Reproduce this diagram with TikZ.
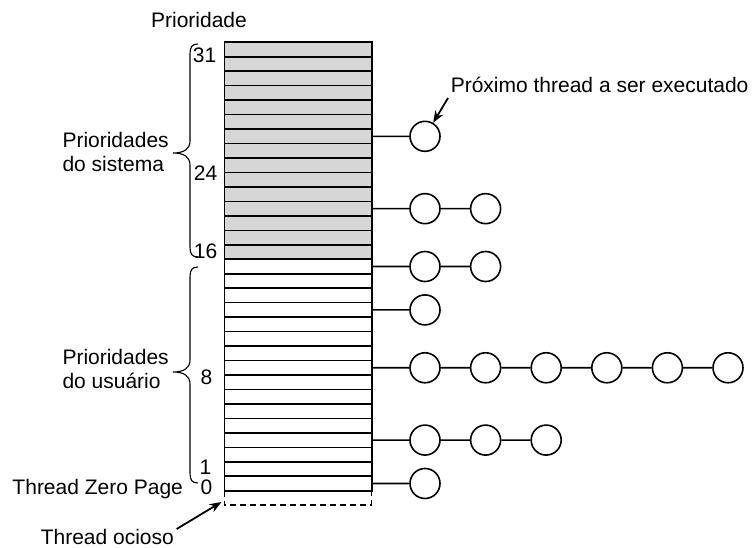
\documentclass[tikz,border=0pt]{standalone}
\usepackage{fontspec}
\setmainfont{Liberation Sans}
\usetikzlibrary{arrows.meta}
\definecolor{sysgray}{RGB}{214,214,214}
\newcommand\bracepath[3]{%
  \draw[bracestyle] (198,#1) .. controls (192,#1) and (190,#1+3) .. (190,#1+10)
    -- (190,#2-12) .. controls (190,#2-4) and (184,#2) .. (173,#2)
    .. controls (184,#2) and (190,#2+4) .. (190,#2+12)
    -- (190,#3-10) .. controls (190,#3-3) and (192,#3) .. (198,#3);}
\begin{document}
\begin{tikzpicture}[x=1pt,y=-1pt, line width=1.6pt,
  lbl/.style={inner sep=0pt, font=\fontsize{21}{24}\selectfont},
  slot/.style={draw, minimum width=147.2pt, minimum height=14.465pt, inner sep=0pt, outer sep=0pt},
  thr/.style={draw, circle, minimum size=30pt, inner sep=0pt, fill=white},
  bracestyle/.style={line width=1.1pt},
  ptr/.style={-{Stealth[length=12pt,width=9pt]}, line width=1.8pt},
  dashbox/.style={line width=1.2pt, dash pattern=on 6pt off 4pt}]
\useasboundingbox (0,0) rectangle (752,548);

% priority table
\foreach \i in {0,...,30} {
  \ifnum\i<15 \def\fc{sysgray}\else\def\fc{white}\fi
  \pgfmathsetmacro\yy{42.3+14.465*(\i+0.5)}
  \node[slot, fill=\fc] (row\i) at (298.1,\yy) {};
}
% idle slot (dashed)
\coordinate (d1) at (224.5,505);
\coordinate (d2) at (371.7,505);
\draw[dashbox] (row30.south west) -- (d1) -- (d2) -- (row30.south east);

% labels
\node[lbl, anchor=base] (title) at (199,27.7) {Prioridade};
\node[lbl, anchor=base east] (l31) at (217,63) {31};
\node[lbl, anchor=base east] (l24) at (218,180.7) {24};
\node[lbl, anchor=base east] (l16) at (218,258) {16};
\node[lbl, anchor=base east] (l8) at (213,384) {8};
\node[lbl, anchor=base east] (l1) at (212,474) {1};
\node[lbl, anchor=base east] (l0) at (213,494) {0};
\node[lbl, align=left, anchor=north west] (sys) at (61.7,131.4) {Prioridades\\do sistema};
\node[lbl, align=left, anchor=north west] (usr) at (61.7,348) {Prioridades\\do usuário};
\node[lbl, anchor=base west] (tzp) at (11.7,494) {Thread Zero Page};
\node[lbl, anchor=base west] (idle) at (40,544) {Thread ocioso};
\node[lbl, anchor=base west] (next) at (450,93) {Próximo thread a ser executado};

% braces
\bracepath{44}{153}{257}
\bracepath{267}{372}{483}

% thread queues
\node[thr] (a1) at (425,136.32) {};
\draw (row6.east) -- (a1);

\node[thr] (b1) at (425,208.65) {};
\node[thr] (b2) at (485.6,208.65) {};
\draw (row11.east) -- (b1) -- (b2);

\node[thr] (c1) at (425,266.51) {};
\node[thr] (c2) at (485.6,266.51) {};
\draw (row15.east) -- (c1) -- (c2);

\node[thr] (e1) at (425,309.91) {};
\draw (row18.east) -- (e1);

\node[thr] (f1) at (425,367.77) {};
\node[thr] (f2) at (485.6,367.77) {};
\node[thr] (f3) at (546.2,367.77) {};
\node[thr] (f4) at (606.8,367.77) {};
\node[thr] (f5) at (667.4,367.77) {};
\node[thr] (f6) at (728,367.77) {};
\draw (row22.east) -- (f1) -- (f2) -- (f3) -- (f4) -- (f5) -- (f6);

\node[thr] (g1) at (425,440.09) {};
\node[thr] (g2) at (485.6,440.09) {};
\node[thr] (g3) at (546.2,440.09) {};
\draw (row27.east) -- (g1) -- (g2) -- (g3);

\node[thr] (h1) at (425,483.49) {};
\draw (row30.east) -- (h1);

% pointers
\coordinate (nextTail) at (448,98);
\draw[ptr] (nextTail) -- (a1);
\coordinate (idleTip) at (221.5,502);
\draw[ptr] ([xshift=2pt,yshift=-1pt]idle.north east) -- (idleTip);
\end{tikzpicture}
\end{document}
